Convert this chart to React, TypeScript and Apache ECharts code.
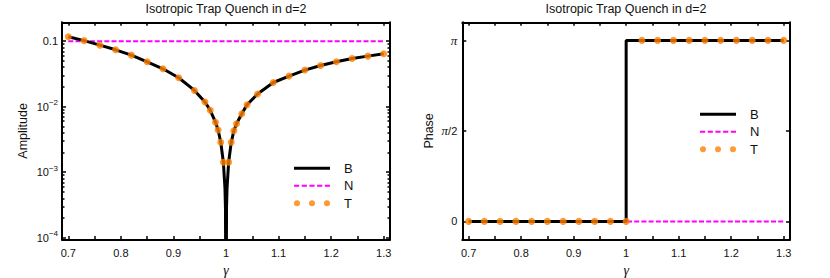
import React, { useEffect, useRef } from "react";
import * as echarts from "echarts";

// ---------- data ----------
const GAMMA_T_AMP = [0.70, 0.73, 0.76, 0.79, 0.82, 0.85, 0.88, 0.91, 0.94, 0.96, 0.97, 0.98, 0.985, 0.99, 0.995, 1.005, 1.01, 1.015, 1.02, 1.03, 1.04, 1.06, 1.09, 1.12, 1.15, 1.18, 1.21, 1.24, 1.27, 1.30];
const AMP_T = [0.117, 0.102, 0.0869, 0.0738, 0.0612, 0.0484, 0.0379, 0.0276, 0.0177, 0.0118, 0.0088, 0.0058, 0.0044, 0.00286, 0.00142, 0.00142, 0.00286, 0.0043, 0.0055, 0.0078, 0.0107, 0.0156, 0.0234, 0.0293, 0.0362, 0.0426, 0.0484, 0.0544, 0.0591, 0.0641];

const GAMMA_B_AMP = [0.70, 0.73, 0.76, 0.79, 0.82, 0.85, 0.88, 0.91, 0.94, 0.96, 0.97, 0.98, 0.985, 0.99, 0.995, 0.998, 0.999, 1.0, 1.001, 1.002, 1.005, 1.01, 1.015, 1.02, 1.03, 1.04, 1.06, 1.09, 1.12, 1.15, 1.18, 1.21, 1.24, 1.27, 1.30];
const AMP_B = [0.117, 0.102, 0.0869, 0.0738, 0.0612, 0.0484, 0.0379, 0.0276, 0.0177, 0.0118, 0.0088, 0.0058, 0.0044, 0.00286, 0.00142, 0.00057, 0.000285, 0.000001, 0.000285, 0.00057, 0.00142, 0.00286, 0.0043, 0.0055, 0.0078, 0.0107, 0.0156, 0.0234, 0.0293, 0.0362, 0.0426, 0.0484, 0.0544, 0.0591, 0.0641];

const GAMMA_N = [0.70, 1.30];
const AMP_N = [0.1, 0.1];

// phase in units of pi
const GAMMA_T_PHASE = [0.70, 0.73, 0.76, 0.79, 0.82, 0.85, 0.88, 0.91, 0.94, 0.97, 1.00, 1.03, 1.06, 1.09, 1.12, 1.15, 1.18, 1.21, 1.24, 1.27, 1.30];
const PHASE_T = [0, 0, 0, 0, 0, 0, 0, 0, 0, 0, 0, 1, 1, 1, 1, 1, 1, 1, 1, 1, 1];
const GAMMA_B_PHASE = [0.70, 1.0, 1.0, 1.30];
const PHASE_B = [0, 0, 1, 1];
const PHASE_N = [0, 0];

// ---------- ticks ----------
const X_TICKS = [0.7, 0.75, 0.8, 0.85, 0.9, 0.95, 1.0, 1.05, 1.1, 1.15, 1.2, 1.25, 1.3];
const X_LABELS = [0.7, 0.8, 0.9, 1.0, 1.1, 1.2, 1.3];
const AMP_MINOR_TICKS = [2e-4, 3e-4, 4e-4, 5e-4, 6e-4, 7e-4, 8e-4, 9e-4, 2e-3, 3e-3, 4e-3, 5e-3, 6e-3, 7e-3, 8e-3, 9e-3, 2e-2, 3e-2, 4e-2, 5e-2, 6e-2, 7e-2, 8e-2, 9e-2];
const PHASE_TICKS = [0, 0.5, 1];

const X_MIN = 0.688;
const X_MAX = 1.312;
const AMP_MIN = 9.4e-5;
const AMP_MAX = 0.194;
const PHASE_MIN = -0.1;
const PHASE_MAX = 1.1;

const SANS = '"Liberation Sans", Arial, Helvetica, sans-serif';
const SERIF = '"Liberation Serif", "Times New Roman", serif';
const TXT = "#111";
const ORANGE = "#FF8000";
const MAGENTA = "#FF00FF";

const zip = (a: number[], b: number[]) => a.map((v, i) => [v, b[i]]);

const ICON_B = "path://M0,0M36,6M0,1.5H36V4.5H0Z";
const ICON_N = "path://M0,0M36,6M0,2h5.2v2h-5.2zM7.7,2h5.2v2h-5.2zM15.4,2h5.2v2h-5.2zM23.1,2h5.2v2h-5.2zM30.8,2h5.2v2h-5.2z";
const ICON_T = "path://M0,0M36,6M0,3a3,3 0 1,0 6,0a3,3 0 1,0 -6,0zM15,3a3,3 0 1,0 6,0a3,3 0 1,0 -6,0zM30,3a3,3 0 1,0 6,0a3,3 0 1,0 -6,0z";

const frameLine = { show: true, onZero: false, lineStyle: { color: "#000", width: 2 } };
const tickStyle = (len: number, custom?: number[]) => ({
  show: true,
  inside: true,
  length: len,
  lineStyle: { color: "#000", width: 1.5 },
  ...(custom ? { customValues: custom } : {}),
});

function xAxes(gridIndex: number) {
  return [
    {
      type: "value",
      gridIndex,
      position: "bottom",
      min: X_MIN,
      max: X_MAX,
      axisLine: frameLine,
      axisTick: tickStyle(3.5, X_TICKS),
      splitLine: { show: false },
      axisLabel: {
        customValues: X_LABELS,
        formatter: (v: number) => String(Math.round(v * 10) / 10),
        fontFamily: SANS,
        fontSize: 11,
        color: TXT,
        margin: 8,
      },
      name: "γ",
      nameLocation: "middle",
      nameGap: 22,
      nameTextStyle: { fontFamily: SERIF, fontStyle: "italic", fontSize: 14, color: TXT },
    },
    {
      type: "value",
      gridIndex,
      position: "top",
      min: X_MIN,
      max: X_MAX,
      axisLine: frameLine,
      axisTick: tickStyle(3.5, X_TICKS),
      splitLine: { show: false },
      axisLabel: { show: false },
    },
  ];
}

function App() {
  const ref = useRef<HTMLDivElement>(null);
  useEffect(() => {
    if (!ref.current) return;
    const chart = echarts.init(ref.current, null, { renderer: "svg" });

    const logLabel = (v: number) => {
      const e = Math.log10(v);
      const r = Math.round(e);
      if (Math.abs(e - r) > 0.01) return "";
      if (r === -1) return "0.1";
      return `{b|10}{s|−${-r}}`;
    };
    const phaseLabel = (v: number) => {
      if (Math.abs(v) < 1e-6) return "0";
      if (Math.abs(v - 0.5) < 1e-6) return "{p|π}{n|/2}";
      if (Math.abs(v - 1) < 1e-6) return "{p|π}";
      return "";
    };

    const legendBase = {
      orient: "vertical",
      padding: 0,
      itemGap: 0,
      itemWidth: 36,
      itemHeight: 6,
      selectedMode: false,
      itemStyle: { borderWidth: 0 },
      textStyle: { fontFamily: SANS, fontSize: 13, lineHeight: 17.5, color: TXT, padding: [0, 0, 0, 9] },
      data: [
        { name: "B", icon: ICON_B },
        { name: "N", icon: ICON_N },
        { name: "T", icon: ICON_T },
      ],
    };

    const titleStyle = { fontFamily: SANS, fontSize: 12.5, fontWeight: "normal", color: TXT };

    const option: any = {
      animation: false,
      backgroundColor: "#fff",
      title: [
        { text: "Isotropic Trap Quench in d=2", left: 226, top: 2, textAlign: "center", padding: 0, textStyle: titleStyle },
        { text: "Isotropic Trap Quench in d=2", left: 626, top: 2, textAlign: "center", padding: 0, textStyle: titleStyle },
      ],
      legend: [
        { ...legendBase, left: 294, top: 159.5 },
        { ...legendBase, left: 700, top: 105.5 },
      ],
      grid: [
        { left: 62, top: 22.3, width: 328, height: 217.2, containLabel: false, outerBoundsMode: "none" },
        { left: 462.3, top: 22.3, width: 327.7, height: 217.2, containLabel: false, outerBoundsMode: "none" },
      ],
      xAxis: [...xAxes(0), ...xAxes(1)],
      yAxis: [
        {
          type: "log",
          logBase: 10,
          gridIndex: 0,
          position: "left",
          min: AMP_MIN,
          max: AMP_MAX,
          axisLine: frameLine,
          axisTick: tickStyle(4),
          splitLine: { show: false },
          minorTick: { show: false },
          axisLabel: {
            formatter: logLabel,
            fontFamily: SANS,
            fontSize: 11,
            color: TXT,
            margin: 4,
            rich: {
              b: { fontFamily: SANS, fontSize: 11, color: TXT, lineHeight: 16 },
              s: { fontFamily: SANS, fontSize: 8, color: TXT, lineHeight: 8, verticalAlign: "top" },
            },
          },
          name: "Amplitude",
          nameLocation: "middle",
          nameGap: 33,
          nameTextStyle: { fontFamily: SANS, fontSize: 12.5, color: TXT },
        },
        {
          type: "log",
          logBase: 10,
          gridIndex: 0,
          position: "right",
          min: AMP_MIN,
          max: AMP_MAX,
          axisLine: frameLine,
          axisTick: tickStyle(4),
          splitLine: { show: false },
          axisLabel: { show: false },
        },
        {
          type: "value",
          gridIndex: 0,
          position: "left",
          min: Math.log10(AMP_MIN),
          max: Math.log10(AMP_MAX),
          axisLine: { show: false },
          axisTick: tickStyle(2.5, AMP_MINOR_TICKS.map((v) => Math.log10(v))),
          splitLine: { show: false },
          axisLabel: { show: false },
        },
        {
          type: "value",
          gridIndex: 0,
          position: "right",
          min: Math.log10(AMP_MIN),
          max: Math.log10(AMP_MAX),
          axisLine: { show: false },
          axisTick: tickStyle(2.5, AMP_MINOR_TICKS.map((v) => Math.log10(v))),
          splitLine: { show: false },
          axisLabel: { show: false },
        },
        {
          type: "value",
          gridIndex: 1,
          position: "left",
          min: PHASE_MIN,
          max: PHASE_MAX,
          axisLine: frameLine,
          axisTick: tickStyle(4, PHASE_TICKS),
          splitLine: { show: false },
          axisLabel: {
            customValues: PHASE_TICKS,
            formatter: phaseLabel,
            fontFamily: SANS,
            fontSize: 11,
            color: TXT,
            margin: 5,
            rich: {
              p: { fontFamily: SERIF, fontStyle: "italic", fontSize: 13, color: TXT },
              n: { fontFamily: SANS, fontSize: 11, color: TXT },
            },
          },
          name: "Phase",
          nameLocation: "middle",
          nameGap: 27,
          nameTextStyle: { fontFamily: SANS, fontSize: 12.5, color: TXT },
        },
        {
          type: "value",
          gridIndex: 1,
          position: "right",
          min: PHASE_MIN,
          max: PHASE_MAX,
          axisLine: frameLine,
          axisTick: tickStyle(4, PHASE_TICKS),
          splitLine: { show: false },
          axisLabel: { show: false },
        },
      ],
      series: [
        {
          name: "N",
          type: "line",
          xAxisIndex: 0,
          yAxisIndex: 0,
          data: zip(GAMMA_N, AMP_N),
          symbol: "none",
          z: 2,
          itemStyle: { color: MAGENTA },
          lineStyle: { color: MAGENTA, width: 2, type: [5, 2.2] },
        },
        {
          name: "B",
          type: "line",
          xAxisIndex: 0,
          yAxisIndex: 0,
          data: zip(GAMMA_B_AMP, AMP_B),
          symbol: "none",
          clip: true,
          z: 3,
          itemStyle: { color: "#000" },
          lineStyle: { color: "#000", width: 3 },
        },
        {
          name: "T",
          type: "scatter",
          xAxisIndex: 0,
          yAxisIndex: 0,
          data: zip(GAMMA_T_AMP, AMP_T),
          symbol: "circle",
          symbolSize: 7,
          z: 4,
          itemStyle: { color: ORANGE },
        },
        {
          name: "N",
          type: "line",
          xAxisIndex: 2,
          yAxisIndex: 4,
          data: zip(GAMMA_N, PHASE_N),
          symbol: "none",
          z: 2,
          itemStyle: { color: MAGENTA },
          lineStyle: { color: MAGENTA, width: 2, type: [5, 2.2] },
        },
        {
          name: "B",
          type: "line",
          xAxisIndex: 2,
          yAxisIndex: 4,
          data: zip(GAMMA_B_PHASE, PHASE_B),
          symbol: "none",
          z: 3,
          itemStyle: { color: "#000" },
          lineStyle: { color: "#000", width: 3 },
        },
        {
          name: "T",
          type: "scatter",
          xAxisIndex: 2,
          yAxisIndex: 4,
          data: zip(GAMMA_T_PHASE, PHASE_T),
          symbol: "circle",
          symbolSize: 7,
          z: 4,
          itemStyle: { color: ORANGE },
        },
      ],
    };

    chart.setOption(option);
    return () => chart.dispose();
  }, []);

  return (
    <div
      ref={ref}
      style={{ position: "absolute", left: 0, top: 0, width: 830, height: 278, background: "#fff" }}
    />
  );
}

export default App;
